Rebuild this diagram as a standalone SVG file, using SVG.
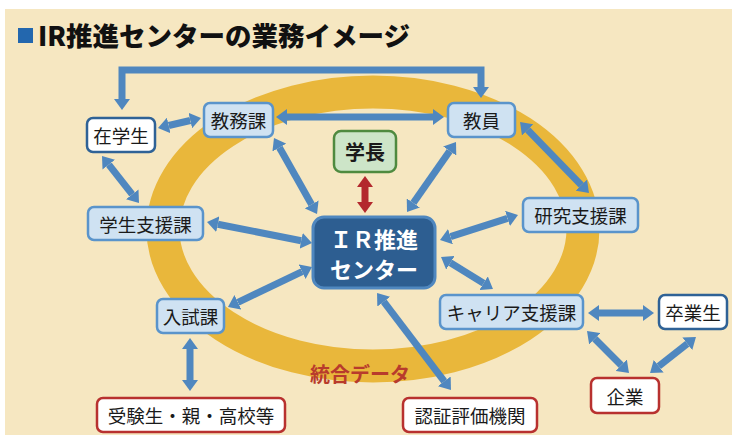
<svg xmlns="http://www.w3.org/2000/svg" width="732" height="435" viewBox="0 0 732 435">
<style>
text{font-family:"Noto Sans CJK JP","Noto Sans",sans-serif;text-anchor:middle;dominant-baseline:central;fill:#1a1a1a}
.n{font-size:18.5px}
.lb{fill:#CFE2F2;stroke:#5A94CB;stroke-width:2.5}
.wb{fill:#fff;stroke:#2F6296;stroke-width:2.5}
.wr{fill:#fff;stroke:#B8312F;stroke-width:2.5}
.ar{fill:none;stroke:#4F87BF;stroke-width:7;marker-start:url(#ah);marker-end:url(#ah)}
.arr{fill:none;stroke:#B3282D;stroke-width:7;marker-start:url(#ahr);marker-end:url(#ahr)}
</style>
<defs>
<marker id="ah" viewBox="0 -8 11 16" refX="0" refY="0" markerWidth="11" markerHeight="16" markerUnits="userSpaceOnUse" orient="auto-start-reverse"><path d="M0,-8 L11,0 L0,8 z" fill="#4F87BF"/></marker>
<marker id="ahr" viewBox="0 -8 11 16" refX="0" refY="0" markerWidth="11" markerHeight="16" markerUnits="userSpaceOnUse" orient="auto-start-reverse"><path d="M0,-8 L11,0 L0,8 z" fill="#B3282D"/></marker>
</defs>
<rect x="0" y="0" width="732" height="435" fill="#fff"/>
<rect x="5" y="9" width="727" height="426" fill="#F6E7C1"/>
<rect x="18" y="28" width="15" height="15" fill="#2367AE"/>
<text x="38" y="34" style="text-anchor:start;font-size:26.5px;font-weight:900;fill:#111">IR推進センターの業務イメージ</text>
<ellipse cx="373" cy="229" rx="210" ry="137" fill="none" stroke="#E9B73B" stroke-width="33"/>
<text x="360" y="373" style="font-size:20px;font-weight:bold;fill:#B83B2C">統合データ</text>
<g id="connectors">
<path class="ar" d="M122,99 V70 H481 V87"/>
<path class="ar" d="M168.7,125.5 L190.3,120.5"/>
<path class="ar" d="M287,117 L433,117"/>
<path class="ar" d="M108.8,164.6 L132.2,194.4"/>
<path class="ar" d="M279.4,147.6 L311.6,204.4"/>
<path class="ar" d="M449.7,151 L413.3,203"/>
<path class="ar" d="M527.7,129.9 L581.3,185.1"/>
<path class="arr" d="M365,187 L365,202"/>
<path class="ar" d="M217.8,224.2 L301.2,240.8"/>
<path class="ar" d="M237.9,302.3 L302.1,271.7"/>
<path class="ar" d="M450.5,236.6 L507.5,218.4"/>
<path class="ar" d="M450.4,262.8 L483.6,283.2"/>
<path class="ar" d="M383.7,301.7 L444.3,381.3"/>
<path class="ar" d="M190,349 L190,380"/>
<path class="ar" d="M599,313 L643,313"/>
<path class="ar" d="M594.8,338.8 L621.2,365.2"/>
<path class="ar" d="M687.3,343.8 L658.7,366.2"/>
</g>
<g id="zaigakusei"><rect class="wb" x="87" y="118" width="68" height="34" rx="6"/><text class="n" x="121" y="135">在学生</text></g>
<g id="kyomuka"><rect class="lb" x="204" y="103" width="69" height="34" rx="6"/><text class="n" x="238.5" y="120">教務課</text></g>
<g id="kyoin"><rect class="lb" x="448" y="103" width="67" height="34" rx="6"/><text class="n" x="481.5" y="120">教員</text></g>
<g id="gakucho"><rect x="334" y="131" width="62" height="41" rx="7" fill="#CDE5C8" stroke="#4F8A3F" stroke-width="2.5"/><text x="365" y="151.5" style="font-size:20px;font-weight:bold">学長</text></g>
<g id="ir"><rect x="313" y="217" width="122" height="71" rx="11" fill="#2D5E91" stroke="#4F87BF" stroke-width="3"/><text x="374" y="238" style="font-size:22px;font-weight:bold;fill:#fff">ＩＲ推進</text><text x="374" y="268" style="font-size:22px;font-weight:bold;fill:#fff">センター</text></g>
<g id="gakuseishien"><rect class="lb" x="88" y="207" width="115" height="33" rx="6"/><text class="n" x="145.5" y="223.5">学生支援課</text></g>
<g id="kenkyushien"><rect class="lb" x="523" y="198" width="115" height="34" rx="6"/><text class="n" x="580.5" y="215">研究支援課</text></g>
<g id="nyushika"><rect class="lb" x="157" y="299" width="67" height="34" rx="6"/><text class="n" x="190.5" y="316">入試課</text></g>
<g id="career"><rect class="lb" x="440" y="295" width="143" height="34" rx="6"/><text class="n" x="511.5" y="312">キャリア支援課</text></g>
<g id="sotsugyosei"><rect class="wb" x="659" y="295" width="68" height="34" rx="6"/><text class="n" x="693" y="312">卒業生</text></g>
<g id="kigyo"><rect class="wr" x="591" y="378" width="68" height="35" rx="6"/><text class="n" x="625" y="395.5">企業</text></g>
<g id="ninsho"><rect class="wr" x="403" y="398" width="134" height="34" rx="6"/><text class="n" x="470" y="415">認証評価機関</text></g>
<g id="jukensei"><rect class="wr" x="97" y="398" width="188" height="34" rx="6"/><text class="n" x="191" y="415">受験生・親・高校等</text></g>
</svg>
